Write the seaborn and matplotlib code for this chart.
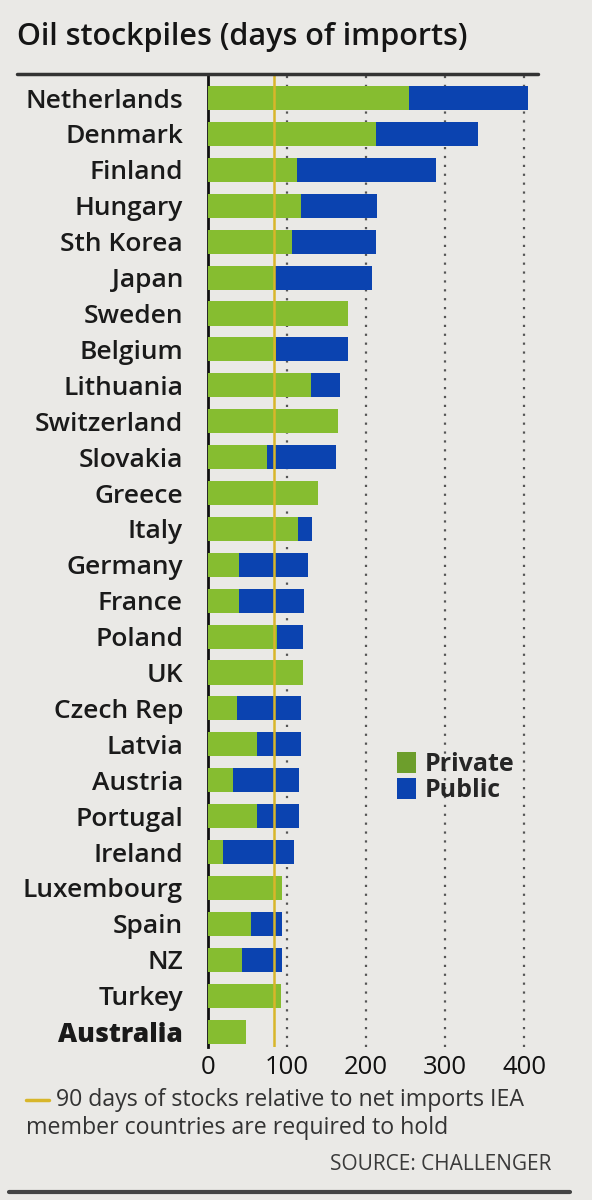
import matplotlib
matplotlib.use("Agg")
import matplotlib.pyplot as plt
import seaborn as sns
import pandas as pd
from matplotlib.patches import Patch
from matplotlib.lines import Line2D

countries = ["Netherlands", "Denmark", "Finland", "Hungary", "Sth Korea", "Japan",
             "Sweden", "Belgium", "Lithuania", "Switzerland", "Slovakia", "Greece",
             "Italy", "Germany", "France", "Poland", "UK", "Czech Rep", "Latvia",
             "Austria", "Portugal", "Ireland", "Luxembourg", "Spain", "NZ", "Turkey",
             "Australia"]
private = [254, 213, 112, 118, 106, 85, 177, 86, 130, 164, 75, 139, 114, 39, 39, 87,
           120, 37, 62, 32, 62, 19, 94, 55, 43, 92, 48]
public = [151, 129, 176, 96, 107, 122, 0, 91, 37, 0, 87, 0, 18, 88, 83, 33,
          0, 80, 55, 83, 53, 90, 0, 39, 51, 0, 0]
x_ticks = [0, 100, 200, 300, 400]
required_line = 83

GREEN = "#86bd30"
BLUE = "#0b43b0"
YELLOW = "#d8b62a"
BG = "#eae9e6"

df = pd.DataFrame({"country": countries, "private": private, "public": public})
df["total"] = df["private"] + df["public"]

sns.set_theme(style="white")
plt.rcParams["font.family"] = ["Open Sans", "DejaVu Sans"]

W, H = 592, 1200
fig = plt.figure(figsize=(W / 100, H / 100), dpi=100, facecolor=BG)
ax = fig.add_axes([208 / W, 1 - 1047 / H, (548 - 208) / W, (1047 - 74) / H])
ax.set_facecolor(BG)

for xv in x_ticks[1:]:
    ax.axvline(xv, color="#555555", linestyle=(0, (1, 3)), linewidth=1.6, zorder=0)

sns.barplot(data=df, y="country", x="total", color=BLUE, saturation=1,
            width=0.67, ax=ax, orient="h", zorder=2, linewidth=0, edgecolor="none")
sns.barplot(data=df, y="country", x="private", color=GREEN, saturation=1,
            width=0.67, ax=ax, orient="h", zorder=3, linewidth=0, edgecolor="none")
ax.axvline(required_line, color=YELLOW, linewidth=1.8, zorder=4)

ax.set_xlim(0, 430)
ax.set_ylim(len(countries) - 1 + 0.43, -0.67)
ax.set_xticks(x_ticks)
ax.set_xticklabels([str(v) for v in x_ticks], fontsize=18.5, color="#111111")
ax.tick_params(axis="x", length=0, pad=6)
ax.tick_params(axis="y", length=0, pad=18)
ax.set_yticks(range(len(countries)))
ax.set_yticklabels(countries, fontsize=19, color="#1a1a1a")
for lab in ax.get_yticklabels():
    lab.set_fontweight("semibold")
    if lab.get_text() == "Australia":
        lab.set_fontweight("heavy")
ax.set_xlabel("")
ax.set_ylabel("")
for s in ["top", "right", "bottom"]:
    ax.spines[s].set_visible(False)
ax.spines["left"].set_color("#111111")
ax.spines["left"].set_linewidth(2)

handles = [Patch(facecolor="#6d9e2c", edgecolor="none", label="Private"),
           Patch(facecolor=BLUE, edgecolor="none", label="Public")]
fig.legend(handles=handles, loc="upper left", bbox_to_anchor=(397 / W, 1 - 752 / H),
           frameon=False, handlelength=0.75, handleheight=0.9, handletextpad=0.35,
           labelspacing=0.05, borderpad=0, borderaxespad=0,
           prop={"size": 18, "weight": "bold"})

fig.text(17 / W, 1 - 37 / H, "Oil stockpiles (days of imports)", fontsize=22,
         fontweight="semibold", color="#151515", va="center", ha="left")
fig.add_artist(Line2D([17 / W, 538 / W], [1 - 74 / H, 1 - 74 / H], color="#333333",
                      linewidth=2.5))

fig.add_artist(Line2D([26 / W, 49 / W], [1 - 1100 / H, 1 - 1100 / H], color=YELLOW,
                      linewidth=2.5))
fig.text(56 / W, 1 - 1100 / H, "90 days of stocks relative to net imports IEA",
         fontsize=16.7, fontweight="medium", color="#333333", va="center", ha="left")
fig.text(26 / W, 1 - 1128 / H, "member countries are required to hold",
         fontsize=16.7, fontweight="medium", color="#333333", va="center", ha="left")
fig.text(551 / W, 1 - 1165 / H, "SOURCE: CHALLENGER", fontsize=15, color="#3a3a3a",
         va="center", ha="right")
fig.add_artist(Line2D([9 / W, 570 / W], [1 - 1192 / H, 1 - 1192 / H], color="#444444",
                      linewidth=3))

fig.savefig("out.png", dpi=100, facecolor=BG)
